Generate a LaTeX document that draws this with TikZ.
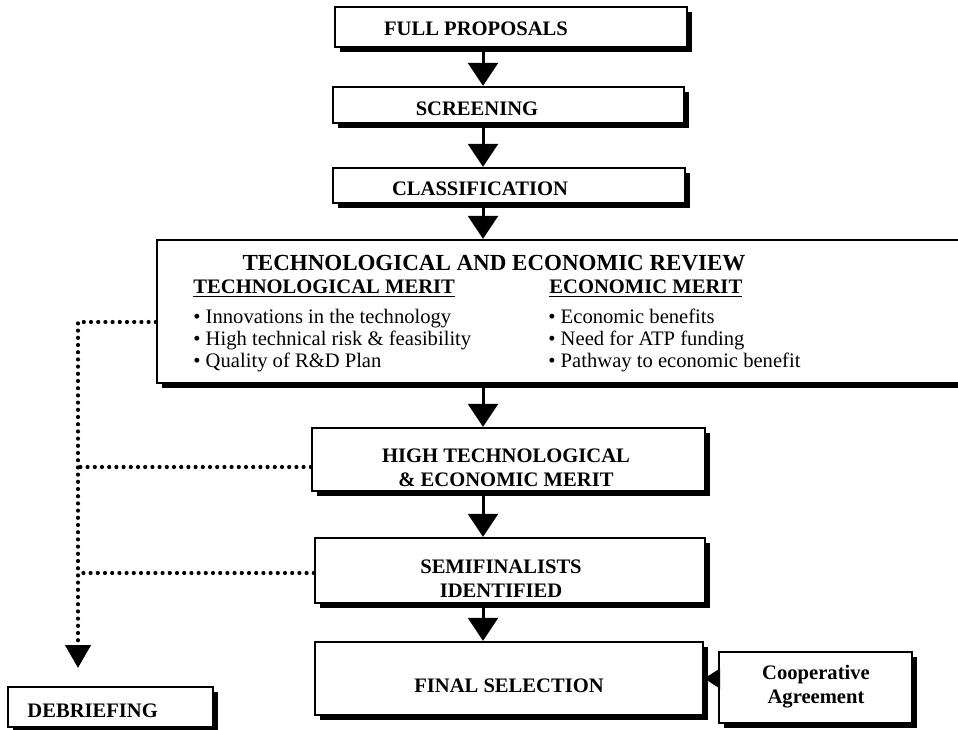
\documentclass[tikz,border=0pt]{standalone}
\usepackage{fontspec}
\setmainfont{Liberation Serif}
\usetikzlibrary{arrows.meta}
\usetikzlibrary{calc}
\usetikzlibrary{shadows}

\tikzset{
	stage/.style={draw=black,line width=1.2pt,fill=white,inner sep=0pt,
		drop shadow={shadow xshift=2.7pt,shadow yshift=-2.7pt,fill=black,opacity=1}},
	stagetxt/.style={font=\fontsize{10.3}{12}\selectfont\bfseries,align=center,inner sep=0pt},
	itemtxt/.style={font=\fontsize{10.3}{12}\selectfont,inner sep=0pt,anchor=base west},
	flow/.style={line width=1.5pt,-{Triangle[width=15pt,length=11.5pt]}},
	dotline/.style={line width=2.1pt,line cap=round,dash pattern=on 0pt off 3.6pt},
}

\begin{document}
\begin{tikzpicture}[x=0.5pt,y=-0.5pt]
	\useasboundingbox (0,0) rectangle (958,729);

	% boxes
	\node(fullBox) at (511,27)[stage,minimum width=176pt,minimum height=20pt]{};
	\node(scrBox) at (508.5,105)[stage,minimum width=175.5pt,minimum height=18pt]{};
	\node(clsBox) at (509,185.5)[stage,minimum width=176pt,minimum height=17.5pt]{};
	\node(revBox) at (561,311.5)[stage,minimum width=404pt,minimum height=71.5pt]{};
	\node(highBox) at (508.5,459.5)[stage,minimum width=196.5pt,minimum height=31.5pt]{};
	\node(semiBox) at (510,570.5)[stage,minimum width=195pt,minimum height=32.5pt]{};
	\node(finalBox) at (509,678.5)[stage,minimum width=194pt,minimum height=36.5pt]{};
	\node(coopBox) at (815.5,687.5)[stage,minimum width=96.5pt,minimum height=35.5pt]{};
	\node(debBox) at (110.5,707)[stage,minimum width=102.5pt,minimum height=20pt]{};

	% texts
	\node(fullTxt) at (476,35)[stagetxt,anchor=base]{FULL PROPOSALS};
	\node(scrTxt) at (477,115)[stagetxt,anchor=base]{SCREENING};
	\node(clsTxt) at (480,195)[stagetxt,anchor=base]{CLASSIFICATION};
	\node(highTxt) at (506,468)[stagetxt]{HIGH TECHNOLOGICAL\\\& ECONOMIC MERIT};
	\node(semiTxt) at (501,579)[stagetxt]{SEMIFINALISTS\\IDENTIFIED};
	\node(finalTxt) at (509,692)[stagetxt,anchor=base]{FINAL SELECTION};
	\node(coopTxt) at (816,687)[stagetxt]{Cooperative\\Agreement};
	\node(debTxt) at (27,717)[stagetxt,anchor=base west]{DEBRIEFING};

	% review contents
	\node(revTitle) at (494,270)[stagetxt,anchor=base,font=\fontsize{11.5}{13}\selectfont\bfseries]{TECHNOLOGICAL AND ECONOMIC REVIEW};
	\node(techHead) at (193,293)[itemtxt,font=\fontsize{10.3}{12}\selectfont\bfseries]{\underline{TECHNOLOGICAL MERIT}};
	\node(econHead) at (549,293)[itemtxt,font=\fontsize{10.3}{12}\selectfont\bfseries]{\underline{ECONOMIC MERIT}};
	\foreach \txt [count=\i] in {Innovations in the technology,High technical risk \& feasibility,Quality of R\&D Plan}
		\node(tech\i) at (193,{300.7+22.3*\i})[itemtxt]{\textbullet\ \txt};
	\foreach \txt [count=\i] in {Economic benefits,Need for ATP funding,Pathway to economic benefit}
		\node(econ\i) at (548,{300.7+22.3*\i})[itemtxt]{\textbullet\ \txt};

	% main flow
	\coordinate(axis) at (483,0);
	\draw[flow](fullBox.south -| axis) -- (scrBox.north -| axis);
	\draw[flow](scrBox.south -| axis) -- (clsBox.north -| axis);
	\draw[flow](clsBox.south -| axis) -- (revBox.north -| axis);
	\draw[flow](revBox.south -| axis) -- (highBox.north -| axis);
	\draw[flow](highBox.south -| axis) -- (semiBox.north -| axis);
	\draw[flow](semiBox.south -| axis) -- (finalBox.north -| axis);
	\draw[line width=1pt,-{Triangle[width=10pt,length=8pt]}](coopBox.west |- finalBox.east) -- (finalBox.east);

	% debriefing branch
	\coordinate(dropTop) at (78,322);
	\coordinate(dropTip) at (78,668);
	\coordinate(highJoin) at (78,467);
	\coordinate(semiJoin) at (78,573);
	\draw[dotline,-{Triangle[width=12.5pt,length=11.5pt]}](revBox.west |- dropTop) -- (dropTop) -- (dropTip);
	\draw[dotline](highBox.west |- highJoin) -- (highJoin);
	\draw[dotline](semiBox.west |- semiJoin) -- (semiJoin);
\end{tikzpicture}
\end{document}
